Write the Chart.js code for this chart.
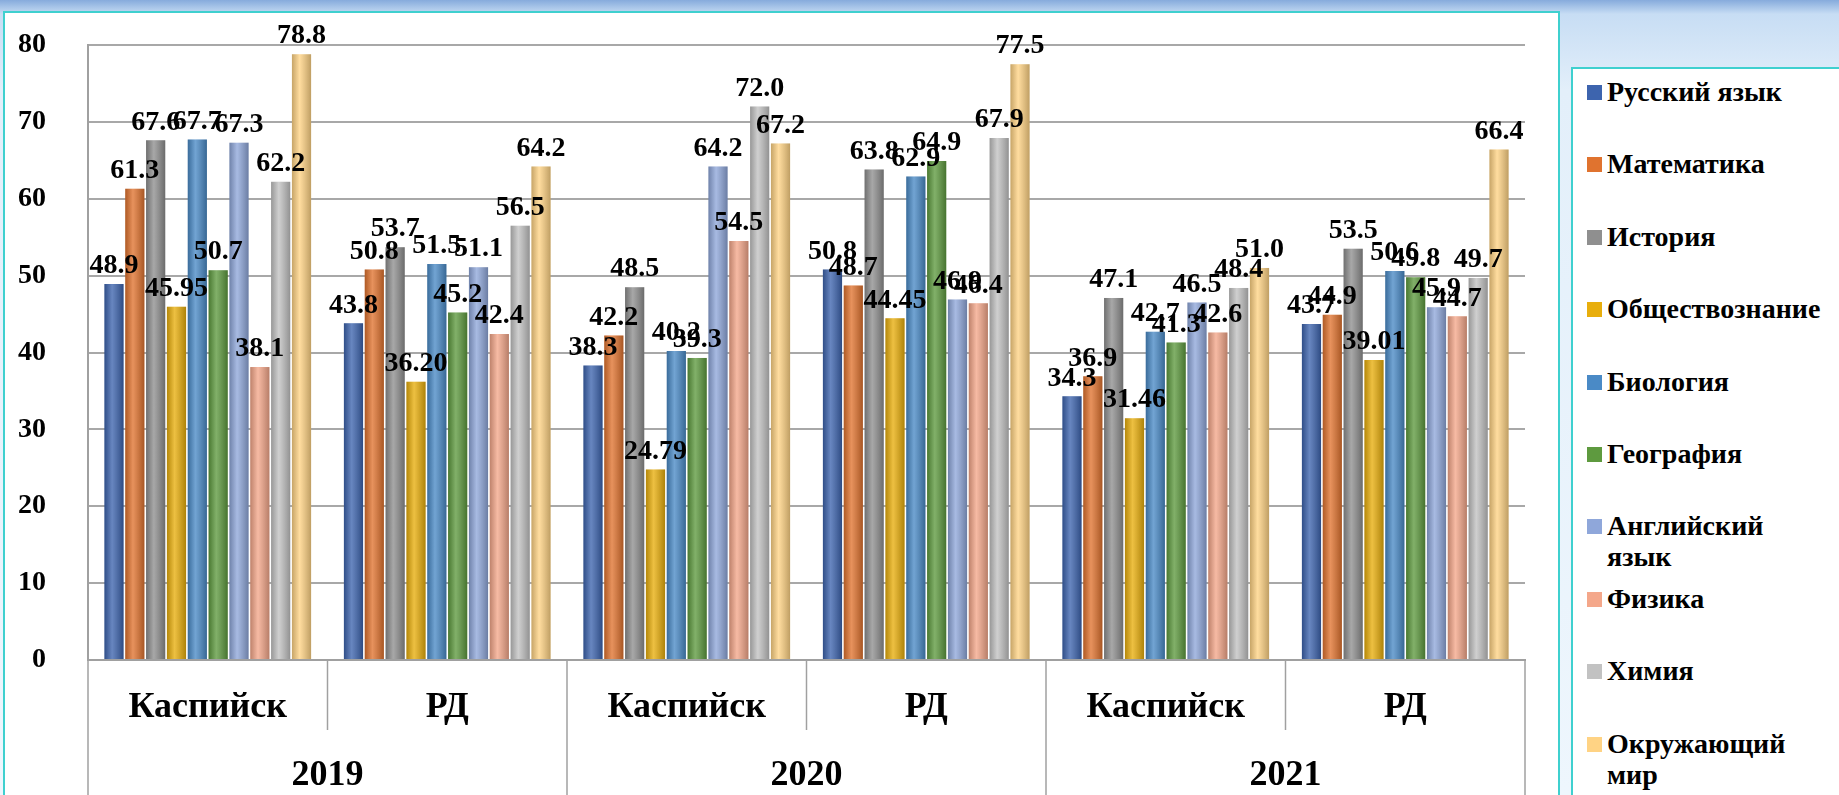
<!DOCTYPE html>
<html>
<head>
<meta charset="utf-8">
<script src="https://cdn.jsdelivr.net/npm/chart.js@4.4.1/dist/chart.umd.min.js"></script>
<style>
html,body{margin:0;padding:0;width:1839px;height:795px;overflow:hidden;
  background:linear-gradient(180deg,#86abdc 0px,#c7ddf4 14px,#e3effa 90px,#eef6fd 795px)}
#box{position:absolute;left:3px;top:11px;width:1557px;height:800px;border:2px solid #3fd0cf;background:#fff;box-sizing:border-box}
#box canvas{position:absolute;left:0;top:0}
#legend{position:absolute;left:1571px;top:67px;width:272px;height:740px;border:2px solid #3fd0cf;background:#fff;box-sizing:border-box}
.item{position:absolute;left:34px;width:205px;font-family:'Liberation Serif';font-weight:bold;font-size:28px;line-height:31px;color:#000}
.mark{position:absolute;left:-20px;top:9px;width:15px;height:15px}
</style>
</head>
<body>
<div id="box"><canvas id="chartEge" width="1553" height="796"></canvas></div>
<div id="legend"></div>
<script>
const regions=['Каспийск','РД','Каспийск','РД','Каспийск','РД']
const years=['2019','2020','2021']
const subjects=['Русский язык','Математика','История','Обществознание','Биология','География','Английский язык','Физика','Химия','Окружающий мир']
const colours=['#3d64ae','#e0732f','#8f8f8f','#e8ae0c','#4a8ac6','#5e9a3f','#8fa7da','#f4a78a','#c2c2c2','#ffd384']
const labelDigits=[1,1,1,2,1,1,1,1,1,1]

const rus=[48.9,43.8,38.3,50.8,34.3,43.7]
const math=[61.3,50.8,42.2,48.7,36.9,44.9]
const hist=[67.6,53.7,48.5,63.8,47.1,53.5]
const soc=[45.95,36.20,24.79,44.45,31.46,39.01]
const bio=[67.7,51.5,40.2,62.9,42.7,50.6]
const geo=[50.7,45.2,39.3,64.9,41.3,49.8]
const eng=[67.3,51.1,64.2,46.9,46.5,45.9]
const phys=[38.1,42.4,54.5,46.4,42.6,44.7]
const chem=[62.2,56.5,72.0,67.9,48.4,49.7]
const world=[78.8,64.2,67.2,77.5,51.0,66.4]
const seriesValues=[rus,math,hist,soc,bio,geo,eng,phys,chem,world]

const yTicks=[0,10,20,30,40,50,60,70,80]
const FONT="'Liberation Serif'"

// cylinder-ish shading + value labels over every bar
const topLabels={
  id:'topLabels',
  afterDatasetsDraw(chart){
    const ctx=chart.ctx
    ctx.save()
    chart.data.datasets.forEach((ds,i)=>{
      chart.getDatasetMeta(i).data.forEach(bar=>{
        const w=bar.width
        const g=ctx.createLinearGradient(bar.x-w/2,0,bar.x+w/2,0)
        g.addColorStop(0,'rgba(0,0,0,0.22)')
        g.addColorStop(0.4,'rgba(255,255,255,0.22)')
        g.addColorStop(1,'rgba(0,0,0,0.25)')
        ctx.fillStyle=g
        ctx.fillRect(bar.x-w/2,bar.y,w,bar.base-bar.y)
      })
    })
    ctx.font='bold 28px '+FONT
    ctx.fillStyle='#000'
    ctx.textAlign='center'
    ctx.textBaseline='bottom'
    chart.data.datasets.forEach((ds,i)=>{
      chart.getDatasetMeta(i).data.forEach((bar,j)=>{
        ctx.fillText(ds.data[j].toFixed(labelDigits[i]),bar.x,bar.y-4)
      })
    })
    ctx.restore()
  }
}

// two-level x axis: separators and year captions
const yearAxis={
  id:'yearAxis',
  afterDraw(chart){
    const {ctx,chartArea,scales:{x}}=chart
    const half=(x.getPixelForValue(1)-x.getPixelForValue(0))/2
    ctx.save()
    ctx.strokeStyle='#a0a0a0'
    ctx.lineWidth=1.5
    for(let i=0;i<=regions.length;i++){
      const px=x.getPixelForValue(i)-half
      ctx.beginPath()
      ctx.moveTo(px,chartArea.bottom)
      ctx.lineTo(px,i%2==0?chart.height:chartArea.bottom+70)
      ctx.stroke()
    }
    ctx.font='bold 36px '+FONT
    ctx.fillStyle='#000'
    ctx.textAlign='center'
    ctx.textBaseline='middle'
    years.forEach((yr,k)=>{
      const cx=(x.getPixelForValue(2*k)+x.getPixelForValue(2*k+1))/2
      ctx.fillText(yr,cx,chartArea.bottom+116)
    })
    ctx.restore()
  }
}

function LoadChart(){
  Chart.defaults.font.family=FONT
  Chart.defaults.font.weight='bold'
  Chart.defaults.color='#000'
  chartEge=new Chart(document.getElementById('chartEge'),{
    type:'bar',
    data:{
      labels:regions,
      datasets:subjects.map((s,i)=>({label:s,data:seriesValues[i],backgroundColor:colours[i],borderWidth:0}))
    },
    options:{
      responsive:false,
      animation:false,
      layout:{padding:{top:32,right:33,left:0,bottom:0}},
      datasets:{bar:{categoryPercentage:0.87,barPercentage:0.92}},
      plugins:{legend:{display:false},tooltip:{enabled:false}},
      scales:{
        x:{
          grid:{display:false,drawTicks:false},
          border:{display:true,color:'#a0a0a0',width:2},
          ticks:{font:{family:FONT,size:36,weight:'bold'},padding:26,color:'#000'},
          afterFit:s=>{s.height=149;s.paddingLeft=0;s.paddingRight=0}
        },
        y:{
          min:0,max:80,
          afterBuildTicks:s=>{s.ticks=yTicks.map(v=>({value:v}))},
          grid:{color:'#a8a8a8',lineWidth:2,drawTicks:false},
          border:{display:true,color:'#a0a0a0',width:2},
          ticks:{font:{family:FONT,size:28,weight:'bold'},padding:42,color:'#000'},
          afterFit:s=>{s.width=83;s.paddingTop=0;s.paddingBottom=0}
        }
      }
    },
    plugins:[topLabels,yearAxis]
  })
}

// legend on the right
const legendBox=document.getElementById('legend')
subjects.forEach((s,i)=>{
  const item=document.createElement('div')
  item.className='item'
  item.style.top=(7+i*72.4)+'px'
  item.innerHTML='<span class="mark" style="background:'+colours[i]+'"></span>'+s
  legendBox.appendChild(item)
})

let chartEge
Promise.all([
  document.fonts.load('bold 28px "Liberation Serif"','Каспийск 0123456789'),
  document.fonts.load('bold 36px "Liberation Serif"','Каспийск 0123456789')
]).then(LoadChart,LoadChart)
</script>
</body>
</html>
